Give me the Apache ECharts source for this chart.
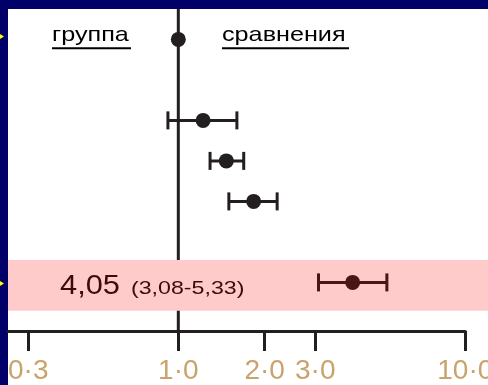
<!DOCTYPE html>
<html><head><meta charset="utf-8">
<script src="https://cdn.jsdelivr.net/npm/echarts@6/dist/echarts.min.js"></script>
<style>
html,body{margin:0;padding:0;background:#000068;overflow:hidden;}
#bg{position:absolute;left:8px;top:9px;width:480px;height:376px;background:#ffffff;}
#c{position:absolute;left:0;top:0;width:488px;height:385px;}
</style>
</head><body><div id="bg"></div><div id="c"></div>
<script>
// ---- data ----
const rowNames = ['группа сравнения', 'исследование 1', 'исследование 2', 'исследование 3', 'итог'];
const rowIndex = [0, 2, 3, 4, 6];
const estimates = [1.0, 1.22, 1.47, 1.83, 4.05];
const ciLow = [null, 0.92, 1.29, 1.50, 3.08];
const ciHigh = [null, 1.60, 1.69, 2.21, 5.33];
const tickValues = [0.3, 1, 2, 3, 10];
const tickLabels = ['0·3', '1·0', '2·0', '3·0', '10·0'];
const refValue = 1;
const summaryValue = '4,05';
const summaryCI = '(3,08-5,33)';
const headerLeft = 'группа';
const headerRight = 'сравнения';
const summaryRow = 4;

// ---- styles ----
const INK = '#231f20';
const MAROON = '#4a1515';
const PINK = '#ffcaca';
const FONT = '"Liberation Sans", Arial, sans-serif';
const yMin = -0.75, yMax = 7.2;

const chart = echarts.init(document.getElementById('c'), null, {renderer: 'canvas'});

const rowColor = i => (i === summaryRow ? MAROON : INK);

const option = {
  backgroundColor: 'transparent',
  animation: false,
  grid: {left: 8, right: 22.7, top: 9, bottom: 54, containLabel: false, outerBoundsMode: 'none'},
  xAxis: {
    type: 'log', logBase: 10, min: 0.255, max: 10, position: 'bottom',
    axisLine: {show: true, onZero: false, lineStyle: {color: INK, width: 3}},
    axisTick: {show: true, customValues: tickValues, length: 20, lineStyle: {color: INK, width: 3}},
    axisLabel: {
      show: true, customValues: tickValues, margin: 26,
      color: '#c9a36c', fontSize: 28, fontFamily: FONT,
      formatter: v => {
        const k = tickValues.findIndex(t => Math.abs(t - v) < 1e-6);
        return k >= 0 ? tickLabels[k] : '';
      }
    },
    splitLine: {show: false},
    minorTick: {show: false}
  },
  yAxis: {type: 'value', inverse: true, min: yMin, max: yMax, show: false},
  graphic: [
    {type: 'polygon', shape: {points: [[0, 34], [4, 36.5], [0, 39]]}, style: {fill: '#ffff00'}},
    {type: 'polygon', shape: {points: [[0, 281], [4, 283.5], [0, 286]]}, style: {fill: '#ffff00'}},
    {type: 'text', x: 52, y: 35.4, scaleX: 1.2,
      style: {text: headerLeft, fill: '#000', font: '21px ' + FONT, align: 'left', verticalAlign: 'middle', textAlign: 'left', textVerticalAlign: 'middle'}},
    {type: 'rect', shape: {x: 52, y: 47.3, width: 79, height: 2}, style: {fill: '#000'}},
    {type: 'text', x: 222, y: 35.4, scaleX: 1.2,
      style: {text: headerRight, fill: '#000', font: '21px ' + FONT, align: 'left', verticalAlign: 'middle', textAlign: 'left', textVerticalAlign: 'middle'}},
    {type: 'rect', shape: {x: 222, y: 47.3, width: 127, height: 2}, style: {fill: '#000'}}
  ],
  series: [
    { // highlight band for summary row
      type: 'custom', z: 1, silent: true, clip: false,
      data: [[estimates[summaryRow], rowIndex[summaryRow]]],
      renderItem: (params, api) => {
        const cs = params.coordSys;
        const yc = api.coord([refValue, api.value(1)])[1];
        return {
          type: 'group',
          children: [
            {type: 'rect', shape: {x: cs.x, y: yc - 22.3, width: api.getWidth() - cs.x, height: 50.7}, style: {fill: PINK}},
            {type: 'text', x: 60, y: yc + 3.7, scaleX: 1.1,
              style: {text: summaryValue, fill: '#3d0a0a', font: '28px ' + FONT, align: 'left', verticalAlign: 'middle', textAlign: 'left', textVerticalAlign: 'middle'}},
            {type: 'text', x: 131, y: yc + 6.3, scaleX: 1.22,
              style: {text: summaryCI, fill: '#3d0a0a', font: '19px ' + FONT, align: 'left', verticalAlign: 'middle', textAlign: 'left', textVerticalAlign: 'middle'}}
          ]
        };
      }
    },
    { // reference line at 1
      type: 'line', z: 0, silent: true, symbol: 'none',
      data: [[refValue, yMin], [refValue, yMax]],
      lineStyle: {color: INK, width: 3}
    },
    { // confidence intervals
      type: 'custom', z: 3, silent: true,
      data: estimates.map((e, i) => [ciLow[i], ciHigh[i], rowIndex[i], i]).filter(d => d[0] != null),
      renderItem: (params, api) => {
        const lo = api.coord([api.value(0), api.value(2)]);
        const hi = api.coord([api.value(1), api.value(2)]);
        const col = rowColor(api.value(3));
        const st = {stroke: col, lineWidth: 3, fill: 'none'};
        const cap = 9;
        return {
          type: 'group',
          children: [
            {type: 'line', shape: {x1: lo[0], y1: lo[1], x2: hi[0], y2: hi[1]}, style: st},
            {type: 'line', shape: {x1: lo[0], y1: lo[1] - cap, x2: lo[0], y2: lo[1] + cap}, style: st},
            {type: 'line', shape: {x1: hi[0], y1: hi[1] - cap, x2: hi[0], y2: hi[1] + cap}, style: st}
          ]
        };
      }
    },
    { // point estimates
      type: 'scatter', z: 4, silent: true, symbol: 'circle', symbolSize: 15,
      data: estimates.map((e, i) => ({value: [e, rowIndex[i]], itemStyle: {color: rowColor(i), opacity: 1}}))
    }
  ]
};
chart.setOption(option);
</script>
</body></html>
